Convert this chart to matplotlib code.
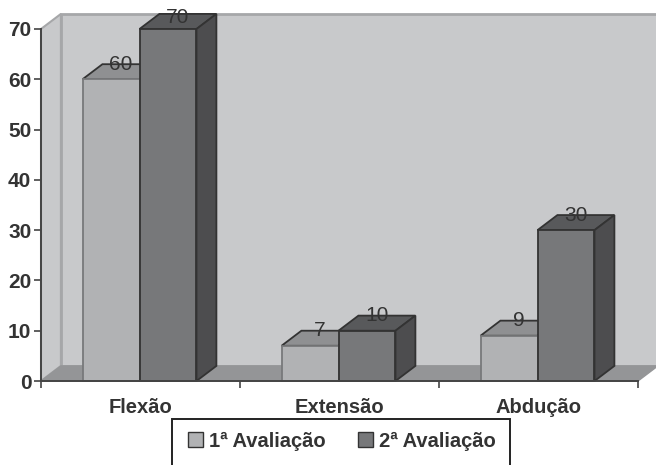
import matplotlib
matplotlib.use('Agg')
import matplotlib.pyplot as plt
from matplotlib.patches import Patch, Polygon, Rectangle

categories = ['Flexão', 'Extensão', 'Abdução']
first_eval = [60, 7, 9]
second_eval = [70, 10, 30]
series_names = ['1ª Avaliação', '2ª Avaliação']
y_ticks = [0, 10, 20, 30, 40, 50, 60, 70]

plt.rcParams['font.family'] = ['Liberation Sans', 'DejaVu Sans']

# depth of the fake 3D box, in data units
DX = 0.1
DY = 3.0
BAR_W = 0.2864
TEXT = '#333333'
EDGE = '#333333'

W, H = 656, 465
fig = plt.figure(figsize=(W / 100, H / 100), dpi=100, facecolor='white')
ax = fig.add_axes([41 / W, 1 - 381 / H, 597 / W, 352 / H])
ax.set_xlim(0, 3)
ax.set_ylim(0, 70)
ax.patch.set_visible(False)


def poly(pts, fc, ec=EDGE, lw=1.3, z=2):
    ax.add_patch(Polygon(pts, closed=True, facecolor=fc, edgecolor=ec,
                         linewidth=lw, zorder=z, clip_on=False,
                         joinstyle='miter'))


def box(x, v, front, top, side, z, front_ec=EDGE):
    """ One bar: lid and right side, then the front face over them """
    poly([(x, v), (x + DX, v + DY), (x + BAR_W + DX, v + DY),
          (x + BAR_W, v)], top, z=z)
    poly([(x + BAR_W, 0), (x + BAR_W + DX, DY), (x + BAR_W + DX, v + DY),
          (x + BAR_W, v)], side, z=z)
    poly([(x, 0), (x + BAR_W, 0), (x + BAR_W, v), (x, v)], front,
         ec=front_ec, z=z)


# walls and floor
xmax = 3 + DX
poly([(DX, DY), (xmax, DY), (xmax, 70 + DY), (DX, 70 + DY)], '#c8c9cb',
     ec='#a6a7a9', lw=2, z=1)
poly([(0, 0), (DX, DY), (DX, 70 + DY), (0, 70)], '#c8c9cb',
     ec='#a6a7a9', lw=1.5, z=1)
poly([(0, 0), (3, 0), (xmax, DY), (DX, DY)], '#949597',
     ec='#949597', lw=1, z=1)

for i, cat in enumerate(categories):
    x2 = i + 0.495
    x1 = x2 - BAR_W
    box(x1, first_eval[i], '#b1b2b4', '#8f9092', '#5a5a5c', 3,
        front_ec='#78797b')
    box(x2, second_eval[i], '#77787a', '#58595b', '#4d4d4f', 4)
    for x, v in ((x1, first_eval[i]), (x2, second_eval[i])):
        # the tallest label is held just under the top of the wall
        ax.text(x + BAR_W / 2 + DX / 2, min(v + DY, 72.2), str(v),
                ha='center', va='center', fontsize=15, color=TEXT, zorder=6)

ax.set_xticks([0, 1, 2, 3])
ax.set_xticklabels([])
ax.set_xticks([0.5, 1.5, 2.5], labels=categories, minor=True)
ax.tick_params(axis='x', which='major', length=5, width=1.2, color='#444444')
ax.tick_params(axis='x', which='minor', length=0, pad=12, labelsize=14.5,
               labelcolor=TEXT)
ax.set_yticks(y_ticks)
ax.tick_params(axis='y', length=5, width=1.2, color='#444444', pad=2,
               labelsize=15, labelcolor=TEXT)
for lab in ax.get_xticklabels(minor=True) + ax.get_yticklabels():
    lab.set_fontweight('bold')
for side in ('top', 'right'):
    ax.spines[side].set_visible(False)
for side in ('left', 'bottom'):
    ax.spines[side].set_color('#444444')
    ax.spines[side].set_linewidth(1.4)
    ax.spines[side].set_zorder(5)

# legend frame runs off the bottom edge
fig.add_artist(Rectangle((172 / W, -0.05), 338 / W, 1 - 419 / H + 0.05,
                         transform=fig.transFigure, facecolor='white',
                         edgecolor='#222222', linewidth=1.4))
handles = [Patch(facecolor='#b1b2b4', edgecolor=EDGE),
           Patch(facecolor='#77787a', edgecolor=EDGE)]
leg = fig.legend(handles, series_names, ncol=2, frameon=False,
                 loc='center', bbox_to_anchor=(342 / W, 1 - 441 / H),
                 handlelength=0.75, handleheight=0.75, handletextpad=0.3,
                 columnspacing=1.6, prop={'size': 14.5, 'weight': 'bold'},
                 labelcolor=TEXT)

fig.savefig('out.png', dpi=100)
